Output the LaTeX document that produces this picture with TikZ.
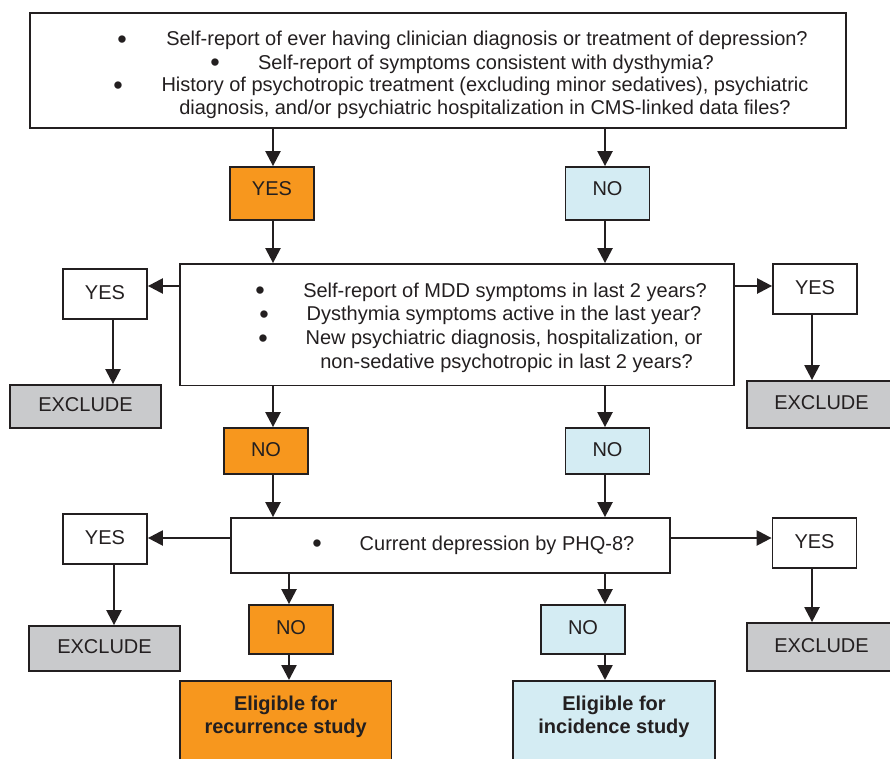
\documentclass[tikz,border=0pt]{standalone}
\usepackage{fontspec}
\setmainfont{Liberation Sans}
\usetikzlibrary{arrows.meta}
\definecolor{ln}{HTML}{231F20}
\definecolor{org}{HTML}{F7971E}
\definecolor{lbl}{HTML}{D4ECF3}
\definecolor{gry}{HTML}{C9CACC}
\begin{document}
\begin{tikzpicture}[x=1pt,y=-1pt,
  font=\fontsize{20}{24}\selectfont,
  box/.style={draw=ln, line width=1.8pt, rectangle, inner sep=0pt, text=ln, text height=14pt, text depth=4pt},
  ybox/.style={box, minimum width=84pt, minimum height=50pt},
  obox/.style={box, fill=org},
  bbox/.style={box, fill=lbl},
  gbox/.style={box, fill=gry},
  arr/.style={draw=ln, line width=2.4pt, -{Triangle[length=15pt,width=15pt]}},
  txt/.style={inner sep=0pt, text=ln, anchor=center, text height=14pt, text depth=0pt},
  bul/.style={txt, font=\fontsize{27}{27}\selectfont, text height=19pt},
  btxt/.style={txt, font=\fontsize{20}{24}\selectfont\bfseries}]
\useasboundingbox (0,0) rectangle (890,759);

% top box
\node[box, minimum width=816pt, minimum height=115pt] (top) at (438,70.5) {};
\node[bul] (b1) at (122,39) {•};
\node[txt] (t1) at (487,39) {Self-report of ever having clinician diagnosis or treatment of depression?};
\node[bul] (b2) at (215,62.5) {•};
\node[txt] (t2) at (486,62.5) {Self-report of symptoms consistent with dysthymia?};
\node[bul] (b3) at (118,85) {•};
\node[txt] (t3) at (485,85) {History of psychotropic treatment (excluding minor sedatives), psychiatric};
\node[txt] (t4) at (485,107.5) {diagnosis, and/or psychiatric hospitalization in CMS-linked data files?};

% first YES / NO
\node[obox, minimum width=84pt, minimum height=53pt, text depth=9pt] (yes1) at (272,193.5) {YES};
\node[bbox, minimum width=84pt, minimum height=53pt, text depth=9pt] (no1) at (607.5,193.5) {NO};

% middle box
\node[box, minimum width=554pt, minimum height=121.5pt] (mid) at (457,324.75) {};
\node[bul] (mb1) at (260,289.5) {•};
\node[txt] (m1) at (505,290) {Self-report of MDD symptoms in last 2 years?};
\node[bul] (mb2) at (264,313.5) {•};
\node[txt] (m2) at (504,313.5) {Dysthymia symptoms active in the last year?};
\node[bul] (mb3) at (263,337.5) {•};
\node[txt] (m3) at (504,337.5) {New psychiatric diagnosis, hospitalization, or};
\node[txt] (m4) at (506.5,361) {non-sedative psychotropic in last 2 years?};

\node[ybox] (yesL1) at (105,294) {YES};
\node[ybox] (yesR1) at (815,289) {YES};
\node[gbox, minimum width=151pt, minimum height=43pt] (exL1) at (85.5,406.5) {EXCLUDE};
\node[gbox, minimum width=146pt, minimum height=47pt] (exR1) at (820,404.5) {\hspace*{3pt}EXCLUDE};

% second NO boxes
\node[obox, minimum width=84pt, minimum height=46pt] (noO2) at (266,451) {NO};
\node[bbox, minimum width=84pt, minimum height=46pt] (noB2) at (607.5,451) {NO};

% PHQ box
\node[box, minimum width=439pt, minimum height=55pt] (phq) at (450.5,545.5) {};
\node[bul] (pb) at (317,543) {•};
\node[txt] (p1) at (497,543) {Current depression by PHQ-8?};

\node[ybox] (yesL2) at (105,539) {YES};
\node[ybox] (yesR2) at (814.5,543) {YES};
\node[gbox, minimum width=151pt, minimum height=45pt] (exL2) at (104.5,648.5) {EXCLUDE};
\node[gbox, minimum width=146pt, minimum height=48pt] (exR2) at (820,647) {\hspace*{3pt}EXCLUDE};

% third NO boxes
\node[obox, minimum width=84pt, minimum height=49pt] (noO3) at (291,629.5) {NO};
\node[bbox, minimum width=84pt, minimum height=49pt] (noB3) at (583,629.5) {NO};

% eligible boxes
\node[obox, minimum width=211.5pt, minimum height=95pt, anchor=north] (eligO) at (285.75,680) {};
\node[btxt] (e1a) at (285.7,703) {Eligible for};
\node[btxt] (e1b) at (285.7,726.5) {recurrence study};
\node[bbox, minimum width=202pt, minimum height=95pt, anchor=north] (eligB) at (614,680) {};
\node[btxt] (e2a) at (614,703) {Eligible for};
\node[btxt] (e2b) at (614,726.5) {incidence study};

% arrows
\draw[arr] (273,0 |- top.south) -- (273,0 |- yes1.north);
\draw[arr] (605,0 |- top.south) -- (605,0 |- no1.north);
\draw[arr] (273,0 |- yes1.south) -- (273,0 |- mid.north);
\draw[arr] (605,0 |- no1.south) -- (605,0 |- mid.north);
\draw[arr] (0,286 -| mid.west) -- (0,286 -| yesL1.east);
\draw[arr] (0,286 -| mid.east) -- (0,286 -| yesR1.west);
\draw[arr] (113,0 |- yesL1.south) -- (113,0 |- exL1.north);
\draw[arr] (812,0 |- yesR1.south) -- (812,0 |- exR1.north);
\draw[arr] (273,0 |- mid.south) -- (273,0 |- noO2.north);
\draw[arr] (605,0 |- mid.south) -- (605,0 |- noB2.north);
\draw[arr] (273,0 |- noO2.south) -- (273,0 |- phq.north);
\draw[arr] (605,0 |- noB2.south) -- (605,0 |- phq.north);
\draw[arr] (0,538 -| phq.west) -- (0,538 -| yesL2.east);
\draw[arr] (0,538 -| phq.east) -- (0,538 -| yesR2.west);
\draw[arr] (114,0 |- yesL2.south) -- (114,0 |- exL2.north);
\draw[arr] (812,0 |- yesR2.south) -- (812,0 |- exR2.north);
\draw[arr] (289,0 |- phq.south) -- (289,0 |- noO3.north);
\draw[arr] (605,0 |- phq.south) -- (605,0 |- noB3.north);
\draw[arr] (289,0 |- noO3.south) -- (289,0 |- eligO.north);
\draw[arr] (605,0 |- noB3.south) -- (605,0 |- eligB.north);
\end{tikzpicture}
\end{document}
